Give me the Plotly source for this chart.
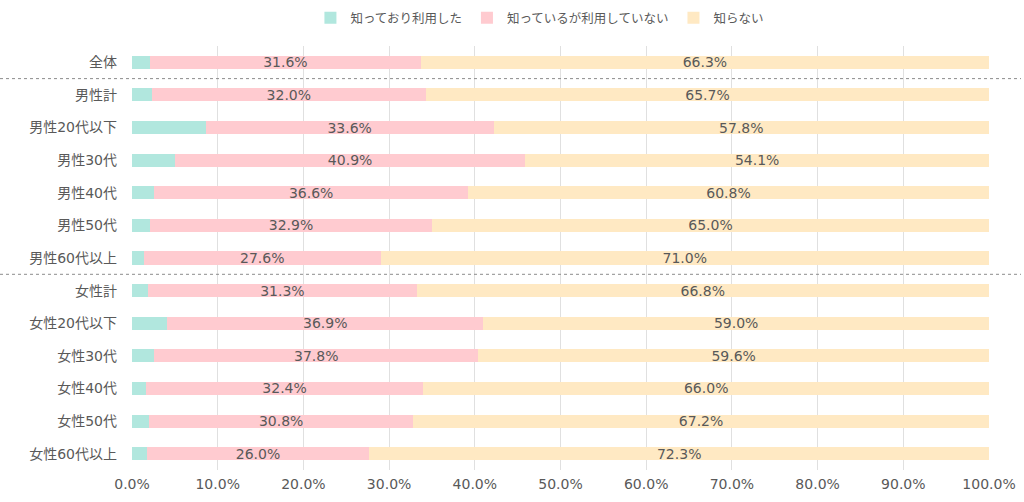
import plotly.graph_objects as go

categories = ["全体", "男性計", "男性20代以下", "男性30代", "男性40代", "男性50代", "男性60代以上",
              "女性計", "女性20代以下", "女性30代", "女性40代", "女性50代", "女性60代以上"]
used = [2.1, 2.3, 8.6, 5.0, 2.6, 2.1, 1.4, 1.9, 4.1, 2.6, 1.6, 2.0, 1.7]
known_not_used = [31.6, 32.0, 33.6, 40.9, 36.6, 32.9, 27.6, 31.3, 36.9, 37.8, 32.4, 30.8, 26.0]
unknown = [66.3, 65.7, 57.8, 54.1, 60.8, 65.0, 71.0, 66.8, 59.0, 59.6, 66.0, 67.2, 72.3]
series_names = ["知っており利用した", "知っているが利用していない", "知らない"]
x_ticks = [0, 10, 20, 30, 40, 50, 60, 70, 80, 90, 100]

colors = ["#b1e7de", "#ffcbd0", "#ffe9c3"]
txtcolor = "#595959"
font = "DejaVu Sans, Noto Sans CJK JP"
fs = 14

fig = go.Figure()
fig.add_trace(go.Bar(y=categories, x=used, name=series_names[0], orientation="h",
                     marker=dict(color=colors[0], line=dict(width=0))))
fig.add_trace(go.Bar(y=categories, x=known_not_used, name=series_names[1], orientation="h",
                     marker=dict(color=colors[1], line=dict(width=0)),
                     text=[f"{v:.1f}%" for v in known_not_used], textposition="inside",
                     insidetextanchor="middle", textfont=dict(color=txtcolor, size=fs, family=font),
                     textangle=0, cliponaxis=False))
fig.add_trace(go.Bar(y=categories, x=unknown, name=series_names[2], orientation="h",
                     marker=dict(color=colors[2], line=dict(width=0)),
                     text=[f"{v:.1f}%" for v in unknown], textposition="inside",
                     insidetextanchor="middle", textfont=dict(color=txtcolor, size=fs, family=font),
                     textangle=0, cliponaxis=False))

plot_left, plot_width = 132, 857
for ypos in [0.5, 6.5]:
    fig.add_shape(type="line", xref="paper", yref="y",
                  x0=-plot_left / plot_width, x1=(1021 - plot_left) / plot_width,
                  y0=ypos, y1=ypos, line=dict(color="#8c8c8c", width=1, dash="dot"))

fig.update_layout(
    barmode="stack",
    bargap=0.6,
    width=1024, height=502,
    margin=dict(l=132, r=35, t=46, b=32, autoexpand=False),
    paper_bgcolor="white", plot_bgcolor="white",
    font=dict(family=font, size=fs, color=txtcolor),
    uniformtext=dict(minsize=fs, mode="show"),
    legend=dict(orientation="h", x=0.476, xanchor="center", y=0.964, yanchor="middle",
                yref="container", font=dict(size=12.5, color=txtcolor, family=font),
                traceorder="normal", itemwidth=30),
    xaxis=dict(range=[0, 100], tickvals=x_ticks, ticktext=[f"{v:.1f}%" for v in x_ticks],
               showgrid=True, gridcolor="#e0e0e0", gridwidth=1, zeroline=False,
               showline=False, ticks="", automargin=False, ticklabelstandoff=4,
               tickfont=dict(size=fs, color=txtcolor, family=font)),
    yaxis=dict(autorange="reversed", showgrid=False, showline=False, ticks="",
               automargin=False, ticklabelstandoff=14,
               tickfont=dict(size=fs, color=txtcolor, family=font)),
    showlegend=True,
)

fig.write_html("out.html", config={"displayModeBar": False},
               post_script="document.body.style.margin='0';document.body.style.padding='0';")
